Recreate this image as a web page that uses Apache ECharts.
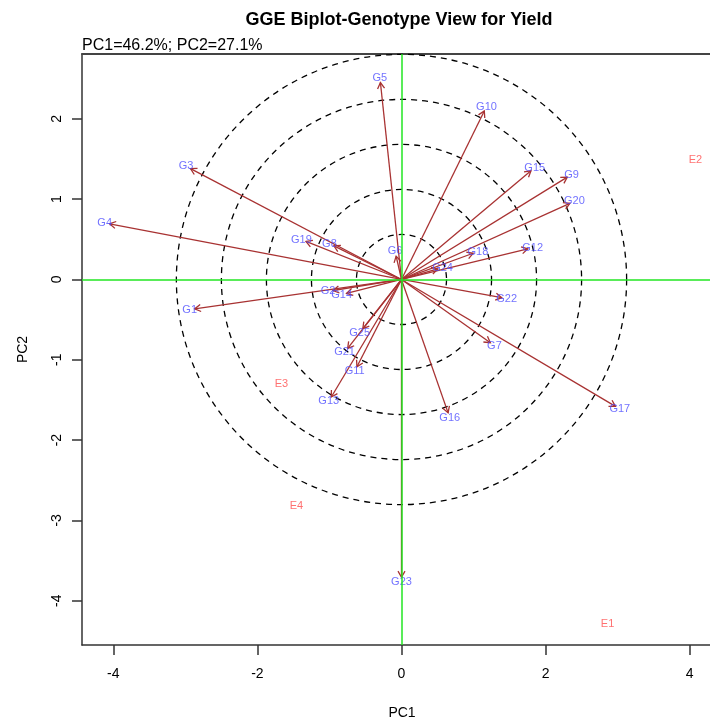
<!DOCTYPE html>
<html>
<head>
<meta charset="utf-8">
<script src="https://cdn.jsdelivr.net/npm/echarts@6/dist/echarts.min.js"></script>
<style>html,body{margin:0;padding:0;background:#fff}#c{width:710px;height:719px}</style>
</head>
<body>
<div id="c"></div>
<script>
// Genotype names and their PC1/PC2 scores
const genoNames = ['G1','G2','G3','G4','G5','G6','G7','G8','G9','G10','G11','G12','G13','G14','G15','G16','G17','G18','G19','G20','G21','G22','G23','G24','G25'];
const genoPC1 = [-2.94,-1.02,-2.99,-4.12,-0.30,-0.09,1.29,-1.00,2.36,1.18,-0.65,1.82,-1.01,-0.83,1.85,0.67,3.03,1.06,-1.39,2.40,-0.79,1.46,0.00,0.57,-0.58];
const genoPC2 = [-0.375,-0.147,1.41,0.705,2.515,0.351,-0.823,0.447,1.307,2.154,-1.143,0.397,-1.517,-0.188,1.394,-1.72,-1.612,0.348,0.497,0.974,-0.907,-0.238,-3.77,0.148,-0.661];
// Environment names and scores
const envNames = ['E1','E2','E3','E4'];
const envPC1 = [2.86,4.08,-1.667,-1.459];
const envPC2 = [-4.286,1.494,-1.297,-2.825];
// Concentric circle radii (PC1 units)
const circleRadii = [0.625,1.25,1.875,2.5,3.125];
// Axis ticks
const xTicks = [-4,-2,0,2,4];
const yTicks = [-4,-3,-2,-1,0,1,2];

const genoData = genoNames.map((n,i)=>[genoPC1[i],genoPC2[i],n]);
const envData = envNames.map((n,i)=>[envPC1[i],envPC2[i],n]);

const X_MIN=-4.435, X_MAX=4.449, Y_MIN=-4.552, Y_MAX=2.808;
const chart = echarts.init(document.getElementById('c'));
const font = 'Liberation Sans, Arial, sans-serif';
const axisCol = '#333';
chart.setOption({
  animation:false,
  backgroundColor:'#fff',
  title:[
    {text:'GGE Biplot-Genotype View for Yield',left:394,top:6,textAlign:'center',
     textStyle:{fontFamily:font,fontWeight:'bold',fontSize:18,color:'#000'}},
    {text:'PC1=46.2%; PC2=27.1%',left:77,top:33,
     textStyle:{fontFamily:font,fontWeight:'normal',fontSize:16,color:'#000'}}
  ],
  grid:{left:82,top:54,width:640,height:591,show:false,outerBoundsMode:'none',containLabel:false},
  xAxis:[{type:'value',min:X_MIN,max:X_MAX,position:'bottom',
    name:'PC1',nameLocation:'middle',nameGap:61,nameTextStyle:{fontFamily:font,fontSize:14,color:'#000'},
    axisLine:{show:true,onZero:false,lineStyle:{color:axisCol,width:1.5}},
    axisTick:{show:true,inside:false,length:10,customValues:xTicks,lineStyle:{color:axisCol,width:1.5}},
    axisLabel:{customValues:xTicks,margin:22,fontFamily:font,fontSize:14,color:'#000'},
    splitLine:{show:false}},
   {type:'value',min:X_MIN,max:X_MAX,position:'top',
    axisLine:{show:true,onZero:false,lineStyle:{color:'#444',width:2}},
    axisTick:{show:false},axisLabel:{show:false},splitLine:{show:false}}],
  yAxis:{type:'value',min:Y_MIN,max:Y_MAX,
    name:'PC2',nameLocation:'middle',nameGap:52,nameRotate:90,nameTextStyle:{fontFamily:font,fontSize:14,color:'#000'},
    axisLine:{show:true,onZero:false,lineStyle:{color:axisCol,width:1.5}},
    axisTick:{show:true,inside:false,length:10,customValues:yTicks,lineStyle:{color:axisCol,width:1.5}},
    axisLabel:{customValues:yTicks,rotate:90,margin:18,fontFamily:font,fontSize:14,color:'#000'},
    splitLine:{show:false}},
  series:[
    {type:'custom',name:'circles',data:circleRadii.map(r=>[r]),silent:true,z:1,
     renderItem:function(params,api){
       const c = api.coord([0,0]);
       const r = api.size([api.value(0),0])[0];
       return {type:'circle',shape:{cx:c[0],cy:c[1],r:r},
         style:{fill:null,stroke:'#000',lineWidth:1.3,lineDash:[6,5]}};
     }},
    {type:'scatter',name:'zero',data:[],silent:true,z:2,
     markLine:{silent:true,symbol:'none',label:{show:false},
       lineStyle:{color:'#22e622',width:1.5,type:'solid'},
       data:[{xAxis:0},{yAxis:0}]}},
    {type:'custom',name:'arrows',data:genoData,silent:true,z:3,clip:true,
     renderItem:function(params,api){
       const o = api.coord([0,0]);
       const p = api.coord([api.value(0),api.value(1)]);
       const dx=p[0]-o[0], dy=p[1]-o[1];
       const len=Math.sqrt(dx*dx+dy*dy);
       const ux=dx/len, uy=dy/len;
       const t=[p[0]-ux*5,p[1]-uy*5];
       const ang=Math.atan2(uy,ux), hl=7, ha=Math.PI/6;
       const h1=[t[0]-hl*Math.cos(ang-ha),t[1]-hl*Math.sin(ang-ha)];
       const h2=[t[0]-hl*Math.cos(ang+ha),t[1]-hl*Math.sin(ang+ha)];
       const st={stroke:'#a83232',lineWidth:1.3,fill:null};
       return {type:'group',children:[
         {type:'line',shape:{x1:o[0],y1:o[1],x2:t[0],y2:t[1]},style:st},
         {type:'polyline',shape:{points:[h1,t,h2]},style:st}
       ]};
     }},
    {type:'scatter',name:'genotypes',data:genoData,symbolSize:0,z:4,silent:true,
     label:{show:true,position:'inside',formatter:p=>p.data[2],fontFamily:font,fontSize:11,color:'#4d4dff'}},
    {type:'scatter',name:'environments',data:envData,symbolSize:0,z:4,silent:true,
     label:{show:true,position:'inside',formatter:p=>p.data[2],fontFamily:font,fontSize:11,color:'#ff4d4d'}}
  ]
});
</script>
</body>
</html>
